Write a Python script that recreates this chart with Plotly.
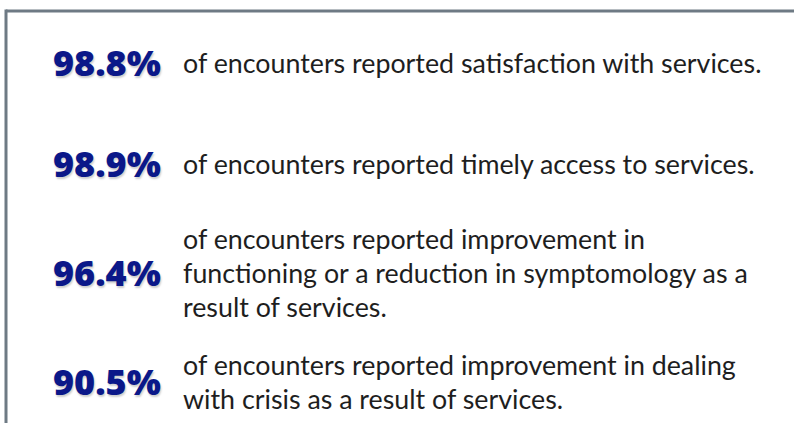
import plotly.graph_objects as go

# ---- data ----
percentages = ["98.8%", "98.9%", "96.4%", "90.5%"]
descriptions = [
    ["of encounters reported satisfaction with services."],
    ["of encounters reported timely access to services."],
    ["of encounters reported improvement in",
     "functioning or a reduction in symptomology as a",
     "result of services."],
    ["of encounters reported improvement in dealing",
     "with crisis as a result of services."],
]

# ---- layout (pixel-like coordinates) ----
W, H = 794, 423
row_y = [62, 163, 272, 381]
line_gap = 34
num_right = 163
text_left = 181
navy = "#0b1889"
border = "#6e7a84"

fig = go.Figure()
annotations = []
for pct, lines, yc in zip(percentages, descriptions, row_y):
    annotations.append(dict(
        x=num_right, y=yc, xref="x", yref="y", text=pct,
        showarrow=False, xanchor="right", yanchor="middle",
        font=dict(family="Open Sans", size=36, color=navy, weight=800,
                  shadow="1px 2px 2px rgba(0,0,0,0.2)")))
    n = len(lines)
    for i, ln in enumerate(lines):
        annotations.append(dict(
            x=text_left, y=yc + 1 + line_gap * (i - (n - 1) / 2), xref="x", yref="y",
            text=ln, showarrow=False, xanchor="left", yanchor="middle",
            font=dict(family="Lato", size=26.8, color="#1e1e1e")))

shapes = [
    dict(type="line", xref="x", yref="y", x0=6, x1=W + 5, y0=11, y1=11,
         line=dict(color=border, width=3)),
    dict(type="line", xref="x", yref="y", x0=6, x1=6, y0=9.5, y1=H + 5,
         line=dict(color=border, width=3)),
]

fig.update_layout(
    width=W, height=H, margin=dict(l=0, r=0, t=0, b=0),
    paper_bgcolor="white", plot_bgcolor="white",
    xaxis=dict(range=[0, W], visible=False, fixedrange=True),
    yaxis=dict(range=[H, 0], visible=False, fixedrange=True),
    annotations=annotations, shapes=shapes, showlegend=False,
)
fig.write_html("out.html", config=dict(displayModeBar=False),
               post_script="document.body.style.margin='0';document.body.style.overflow='hidden';")
